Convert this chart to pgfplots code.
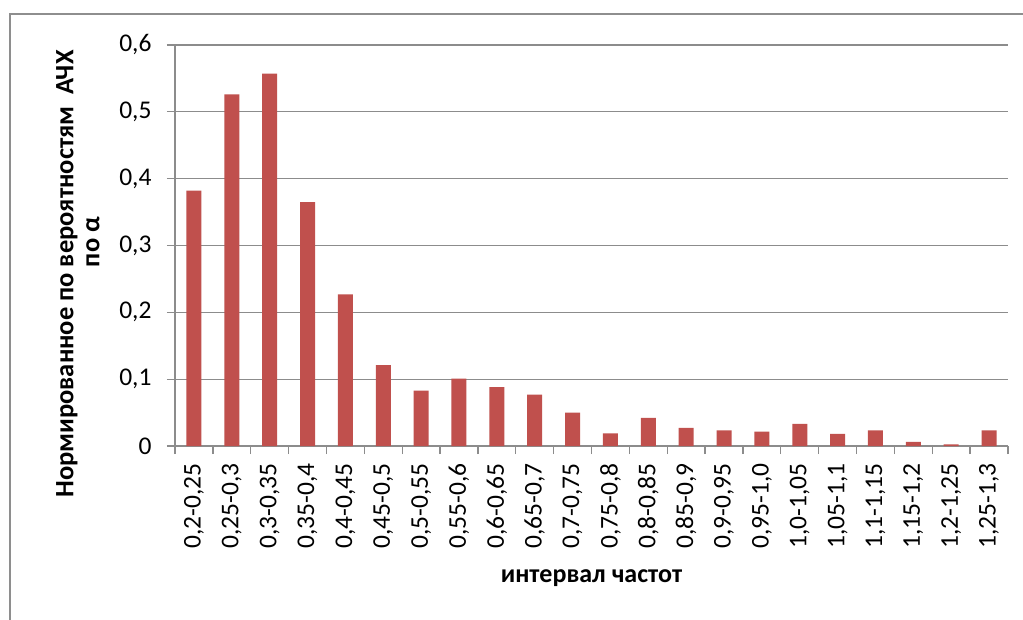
\documentclass[border=0pt]{standalone}
\usepackage{fontspec}
\setmainfont{Carlito}
\usepackage{pgfplots}
\pgfplotsset{compat=1.18}
\definecolor{barred}{HTML}{C0504D}
\definecolor{gridgray}{HTML}{8C8C8C}
\definecolor{framegray}{HTML}{8E8E8E}
\begin{document}
\begin{tikzpicture}[x=1pt,y=1pt]
\useasboundingbox (0,0) rectangle (1023,619);
\fill[white] (0,0) rectangle (1023,619);
\draw[color=framegray, line width=2.5pt] (10,-5) -- (10,605) -- (1030,605);
\begin{axis}[
  at={(175pt,173pt)}, anchor=south west,
  scale only axis, width=833pt, height=401pt,
  xmin=-0.5, xmax=21.5, ymin=0, ymax=0.6,
  axis x line*=bottom, axis y line*=left,
  axis line style={gridgray, line width=1.3pt},
  ymajorgrids, grid style={gridgray, line width=1.3pt},
  tick align=outside, major tick length=8pt,
  tick style={gridgray, line width=1.3pt},
  ytick={0,0.1,0.2,0.3,0.4,0.5,0.6},
  /pgf/number format/use comma, /pgf/number format/fixed, /pgf/number format/precision=1, /pgf/number format/assume math mode=true,
  yticklabel style={font=\fontsize{25.5}{28}\selectfont, xshift=-12pt},
  xtick={-0.5,0.5,...,21.5}, xticklabels={},
  extra x ticks={0,1,...,21},
  extra x tick style={major tick length=0pt, grid=none},
  extra x tick labels={{0,2-0,25},{0,25-0,3},{0,3-0,35},{0,35-0,4},{0,4-0,45},{0,45-0,5},{0,5-0,55},{0,55-0,6},{0,6-0,65},{0,65-0,7},{0,7-0,75},{0,75-0,8},{0,8-0,85},{0,85-0,9},{0,9-0,95},{0,95-1,0},{1,0-1,05},{1,05-1,1},{1,1-1,15},{1,15-1,2},{1,2-1,25},{1,25-1,3}},
  x tick label style={rotate=90, anchor=east, font=\fontsize{25.5}{28}\selectfont, xshift=-14pt},
  xlabel={\bfseries интервал частот},
  xlabel style={font=\fontsize{26}{30}\selectfont, at={(axis description cs:0.5,-0.329)}, anchor=center},
  ylabel={\bfseries Нормированное по вероятностям \ АЧХ\\\bfseries\hspace*{64pt}по α},
  ylabel style={font=\fontsize{26.5}{26}\selectfont, align=center, at={(axis description cs:-0.1165,0.429)}, anchor=center},
  clip=false,
]
\addplot[ybar, bar width=15pt, fill=barred, draw=none] coordinates {
(0,0.382) (1,0.526) (2,0.557) (3,0.365) (4,0.227) (5,0.121) (6,0.083) (7,0.101)
(8,0.088) (9,0.077) (10,0.050) (11,0.019) (12,0.042) (13,0.027) (14,0.0235) (15,0.0215)
(16,0.033) (17,0.018) (18,0.0235) (19,0.006) (20,0.0025) (21,0.0235)
};
\end{axis}
\end{tikzpicture}
\end{document}
